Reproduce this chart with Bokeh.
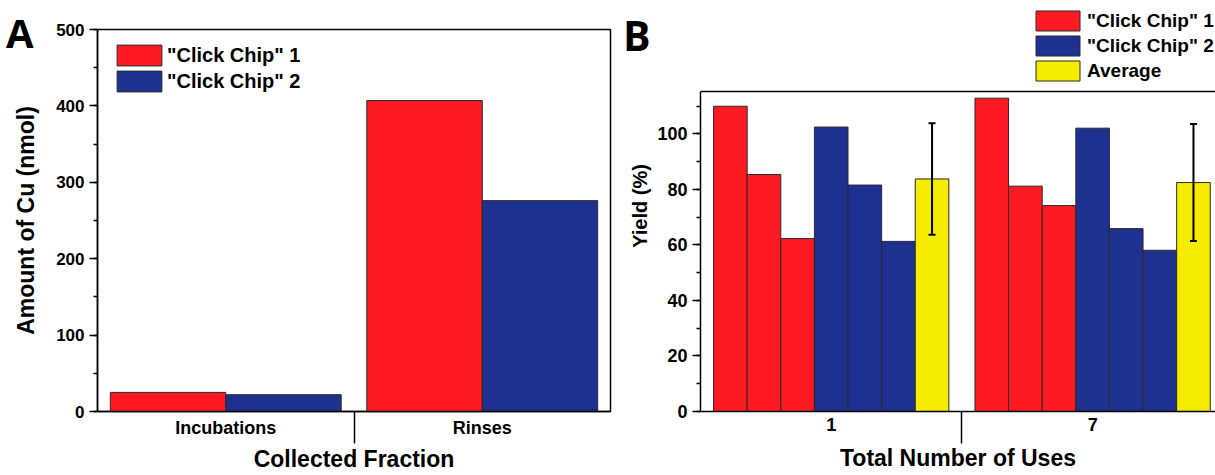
from bokeh.plotting import figure
from bokeh.layouts import row
from bokeh.models import (Range1d, LinearAxis, FixedTicker, SingleIntervalTicker,
                          Legend, LegendItem, Whisker, TeeHead, ColumnDataSource, Span)
from bokeh.embed import file_html
from bokeh.resources import INLINE

# ---------------- Panel A data ----------------
fractions = ["Incubations", "Rinses"]
cu_chip1 = [25, 407]
cu_chip2 = [22, 276]

# ---------------- Panel B data ----------------
uses = ["1", "7"]
yield_chip1 = [[110.0, 85.4, 62.3], [112.9, 81.2, 74.2]]
yield_chip2 = [[102.5, 81.6, 61.3], [102.1, 65.9, 58.1]]
yield_avg = [83.8, 82.5]
yield_err = [20.1, 21.1]

RED = "#fe1a22"
BLUE = "#1f3190"
YELLOW = "#f5ec00"
EDGE = "#2a2a2a"
FONT = "Liberation Sans"


def style_axis(ax, size):
    ax.axis_line_width = 1.5
    ax.axis_line_color = "black"
    ax.major_tick_line_width = 1.5
    ax.minor_tick_line_width = 1.5
    ax.major_tick_line_color = "black"
    ax.minor_tick_line_color = "black"
    ax.major_label_text_font = FONT
    ax.major_label_text_font_style = "bold"
    ax.major_label_text_font_size = size
    ax.major_label_text_color = "black"
    ax.axis_label_text_font = FONT
    ax.axis_label_text_font_style = "bold"
    ax.axis_label_text_color = "black"


def base_fig(width, x_range, y_range, left, right, top, bottom):
    p = figure(width=width, height=475, x_range=x_range, y_range=y_range,
               output_backend="svg", toolbar_location=None,
               x_axis_type=None, y_axis_type=None,
               min_border_left=left, min_border_right=right,
               min_border_top=top, min_border_bottom=bottom,
               frame_align=False)
    p.xgrid.visible = False
    p.ygrid.visible = False
    p.background_fill_color = "white"
    p.border_fill_color = "white"
    return p


def category_axis(positions, labels, title, label_standoff):
    ax = LinearAxis(ticker=FixedTicker(ticks=positions,
                                       minor_ticks=[x + 0.5 for x in positions[:-1]]),
                    major_label_overrides={x: t for x, t in zip(positions, labels)},
                    axis_label=title)
    style_axis(ax, "18px")
    ax.major_tick_out = 0
    ax.major_tick_in = 0
    ax.minor_tick_out = 32
    ax.minor_tick_in = 0
    ax.major_label_standoff = -26
    ax.axis_label_text_font_size = "23px"
    ax.axis_label_standoff = label_standoff
    return ax


def letter_axis(letter, y_pos, standoff, size):
    ax = LinearAxis(ticker=FixedTicker(ticks=[y_pos]),
                    major_label_overrides={y_pos: letter})
    ax.axis_line_color = None
    ax.major_tick_out = 0
    ax.major_tick_in = 0
    ax.minor_tick_out = 0
    ax.minor_tick_in = 0
    ax.major_label_standoff = standoff
    ax.major_label_text_font = "Open Sans"
    ax.major_label_text_font_style = "bold"
    ax.major_label_text_font_size = size
    ax.major_label_text_color = "black"
    return ax


def make_legend(items, location, gw, gh, standoff, size):
    return Legend(items=items, location=location, padding=0, margin=0,
                  border_line_color=None, background_fill_alpha=0,
                  glyph_width=gw, glyph_height=gh, label_height=gh,
                  spacing=0, label_standoff=standoff,
                  label_text_font=FONT, label_text_font_style="bold",
                  label_text_font_size=size, label_text_color="black")


# ================= Panel A =================
xa = [i + 1 for i in range(len(fractions))]
wa = 0.45
pA = base_fig(615, Range1d(0.5, len(fractions) + 0.5), Range1d(0, 500), 97, 5, 29, 64)
pA.outline_line_color = "black"
pA.outline_line_width = 1.5

rA1 = pA.vbar(x=[x - wa / 2 for x in xa], top=cu_chip1, width=wa, bottom=0,
              fill_color=RED, line_color=EDGE, line_width=1)
rA2 = pA.vbar(x=[x + wa / 2 for x in xa], top=cu_chip2, width=wa, bottom=0,
              fill_color=BLUE, line_color=EDGE, line_width=1)

yA = LinearAxis(ticker=SingleIntervalTicker(interval=100, num_minor_ticks=2),
                axis_label="Amount of Cu (nmol)")
style_axis(yA, "17px")
yA.axis_label_text_font_size = "23px"
yA.axis_label_standoff = 14
yA.major_tick_out = 8
yA.major_tick_in = 0
yA.minor_tick_out = 4
yA.minor_tick_in = 0
yA.major_label_standoff = 5
pA.add_layout(yA, "left")
pA.add_layout(letter_axis("A", 496, -23, "40px"), "left")

pA.add_layout(category_axis(xa, fractions, "Collected Fraction", 5), "below")

legA = make_legend([LegendItem(label='"Click Chip" 1', renderers=[rA1]),
                    LegendItem(label='"Click Chip" 2', renderers=[rA2])],
                   (14, 317), 56, 26, 0, "20px")
pA.add_layout(legA)

# ================= Panel B =================
xb = [i + 1 for i in range(len(uses))]
bw = 0.9 / 7
y_top_B = 115.3
pB = base_fig(600, Range1d(0.5, 2.47), Range1d(0, 148.1), 85, 0, 0, 64)
pB.outline_line_color = None

x_c1, t_c1, x_c2, t_c2, x_av = [], [], [], [], []
for g, xc in enumerate(xb):
    for j, v in enumerate(yield_chip1[g]):
        x_c1.append(xc + (j - 3) * bw)
        t_c1.append(v)
    for j, v in enumerate(yield_chip2[g]):
        x_c2.append(xc + j * bw)
        t_c2.append(v)
    x_av.append(xc + 3 * bw)

rB1 = pB.vbar(x=x_c1, top=t_c1, width=bw, bottom=0, fill_color=RED, line_color=EDGE, line_width=1)
rB2 = pB.vbar(x=x_c2, top=t_c2, width=bw, bottom=0, fill_color=BLUE, line_color=EDGE, line_width=1)
rB3 = pB.vbar(x=x_av, top=yield_avg, width=bw, bottom=0, fill_color=YELLOW, line_color=EDGE, line_width=1)

err_src = ColumnDataSource(data=dict(
    base=x_av,
    upper=[a + e for a, e in zip(yield_avg, yield_err)],
    lower=[a - e for a, e in zip(yield_avg, yield_err)]))
pB.add_layout(Whisker(base="base", upper="upper", lower="lower", source=err_src,
                      dimension="height", level="annotation",
                      line_width=2, line_color="black",
                      upper_head=TeeHead(size=7, line_width=2, line_color="black"),
                      lower_head=TeeHead(size=7, line_width=2, line_color="black")))

# top border of the plotting box
pB.add_layout(Span(location=y_top_B, dimension="width", line_color="black", line_width=1.5))

yB = LinearAxis(ticker=SingleIntervalTicker(interval=20, num_minor_ticks=2),
                axis_label="Yield (%)", bounds=(0, y_top_B))
style_axis(yB, "18px")
yB.axis_label_text_font_size = "20px"
yB.axis_label_standoff = 3
yB.major_tick_out = 8
yB.major_tick_in = 0
yB.minor_tick_out = 4
yB.minor_tick_in = 0
yB.major_label_standoff = 5
pB.add_layout(yB, "left")
pB.add_layout(letter_axis("B", 135.5, -24, "41px"), "left")

pB.add_layout(category_axis(xb, uses, "Total Number of Uses", 11), "below")

legB = make_legend([LegendItem(label='"Click Chip" 1', renderers=[rB1]),
                    LegendItem(label='"Click Chip" 2', renderers=[rB2]),
                    LegendItem(label="Average", renderers=[rB3])],
                   (330, 328), 55, 25, 2, "19px")
pB.add_layout(legB)

layout = row(pA, pB)
open("out.html", "w").write(file_html(layout, INLINE))
